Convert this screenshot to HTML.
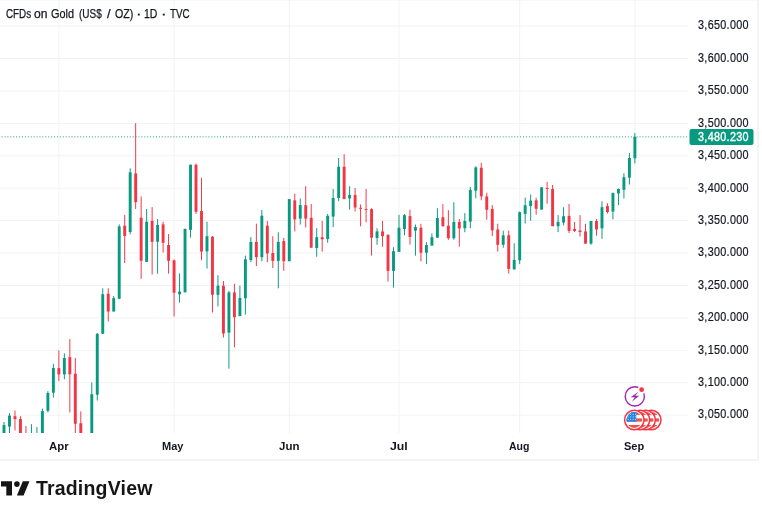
<!DOCTYPE html>
<html><head><meta charset="utf-8"><title>CFDs on Gold</title>
<style>
html,body{margin:0;padding:0;background:#fff;}
body{width:762px;height:505px;position:relative;overflow:hidden;font-family:"Liberation Sans",sans-serif;color:#131722;}
svg{position:absolute;left:0;top:0;}
.t{position:absolute;white-space:nowrap;line-height:1;}
.ttl span{position:absolute;top:0;left:0;transform-origin:0 0;font-size:12px;-webkit-text-stroke:0.25px #131722;}
.pl{font-size:12px;letter-spacing:0.35px;left:697.7px;transform:scaleX(0.9);transform-origin:0 0;-webkit-text-stroke:0.2px #131722;}
.tl{font-size:11.3px;font-weight:bold;transform-origin:0 0;top:440.9px;}
</style></head><body>
<svg width="762" height="505" viewBox="0 0 762 505">

<rect x="0" y="25.61" width="688.6" height="0.971" fill="#f2f2f3"/>
<rect x="0" y="58.03" width="688.6" height="0.971" fill="#f2f2f3"/>
<rect x="0" y="90.45" width="688.6" height="0.971" fill="#f2f2f3"/>
<rect x="0" y="122.87" width="688.6" height="0.971" fill="#f2f2f3"/>
<rect x="0" y="155.29" width="688.6" height="0.971" fill="#f2f2f3"/>
<rect x="0" y="187.71" width="688.6" height="0.971" fill="#f2f2f3"/>
<rect x="0" y="220.13" width="688.6" height="0.971" fill="#f2f2f3"/>
<rect x="0" y="252.55" width="688.6" height="0.971" fill="#f2f2f3"/>
<rect x="0" y="284.97" width="688.6" height="0.971" fill="#f2f2f3"/>
<rect x="0" y="317.39" width="688.6" height="0.971" fill="#f2f2f3"/>
<rect x="0" y="349.81" width="688.6" height="0.971" fill="#f2f2f3"/>
<rect x="0" y="382.23" width="688.6" height="0.971" fill="#f2f2f3"/>
<rect x="0" y="414.65" width="688.6" height="0.971" fill="#f2f2f3"/>
<rect x="58.37" y="0" width="0.971" height="433" fill="#f2f2f3"/>
<rect x="173.58" y="0" width="0.971" height="433" fill="#f2f2f3"/>
<rect x="288.79" y="0" width="0.971" height="433" fill="#f2f2f3"/>
<rect x="398.51" y="0" width="0.971" height="433" fill="#f2f2f3"/>
<rect x="519.20" y="0" width="0.971" height="433" fill="#f2f2f3"/>
<rect x="634.40" y="0" width="0.971" height="433" fill="#f2f2f3"/>
<rect x="757" y="0" width="2" height="461" fill="#f4f4f5"/>
<rect x="0" y="459" width="759" height="2" fill="#f4f4f5"/>
<rect x="0" y="0" width="759" height="0.6" fill="#f4f4f5"/>
<g fill="#089981">
<rect x="1.60" y="136.4" width="0.971" height="0.971"/>
<rect x="4.51" y="136.4" width="0.971" height="0.971"/>
<rect x="7.43" y="136.4" width="0.971" height="0.971"/>
<rect x="10.34" y="136.4" width="0.971" height="0.971"/>
<rect x="13.25" y="136.4" width="0.971" height="0.971"/>
<rect x="16.16" y="136.4" width="0.971" height="0.971"/>
<rect x="19.08" y="136.4" width="0.971" height="0.971"/>
<rect x="21.99" y="136.4" width="0.971" height="0.971"/>
<rect x="24.90" y="136.4" width="0.971" height="0.971"/>
<rect x="27.82" y="136.4" width="0.971" height="0.971"/>
<rect x="30.73" y="136.4" width="0.971" height="0.971"/>
<rect x="33.64" y="136.4" width="0.971" height="0.971"/>
<rect x="36.56" y="136.4" width="0.971" height="0.971"/>
<rect x="39.47" y="136.4" width="0.971" height="0.971"/>
<rect x="42.38" y="136.4" width="0.971" height="0.971"/>
<rect x="45.29" y="136.4" width="0.971" height="0.971"/>
<rect x="48.21" y="136.4" width="0.971" height="0.971"/>
<rect x="51.12" y="136.4" width="0.971" height="0.971"/>
<rect x="54.03" y="136.4" width="0.971" height="0.971"/>
<rect x="56.95" y="136.4" width="0.971" height="0.971"/>
<rect x="59.86" y="136.4" width="0.971" height="0.971"/>
<rect x="62.77" y="136.4" width="0.971" height="0.971"/>
<rect x="65.69" y="136.4" width="0.971" height="0.971"/>
<rect x="68.60" y="136.4" width="0.971" height="0.971"/>
<rect x="71.51" y="136.4" width="0.971" height="0.971"/>
<rect x="74.42" y="136.4" width="0.971" height="0.971"/>
<rect x="77.34" y="136.4" width="0.971" height="0.971"/>
<rect x="80.25" y="136.4" width="0.971" height="0.971"/>
<rect x="83.16" y="136.4" width="0.971" height="0.971"/>
<rect x="86.08" y="136.4" width="0.971" height="0.971"/>
<rect x="88.99" y="136.4" width="0.971" height="0.971"/>
<rect x="91.90" y="136.4" width="0.971" height="0.971"/>
<rect x="94.82" y="136.4" width="0.971" height="0.971"/>
<rect x="97.73" y="136.4" width="0.971" height="0.971"/>
<rect x="100.64" y="136.4" width="0.971" height="0.971"/>
<rect x="103.55" y="136.4" width="0.971" height="0.971"/>
<rect x="106.47" y="136.4" width="0.971" height="0.971"/>
<rect x="109.38" y="136.4" width="0.971" height="0.971"/>
<rect x="112.29" y="136.4" width="0.971" height="0.971"/>
<rect x="115.21" y="136.4" width="0.971" height="0.971"/>
<rect x="118.12" y="136.4" width="0.971" height="0.971"/>
<rect x="121.03" y="136.4" width="0.971" height="0.971"/>
<rect x="123.95" y="136.4" width="0.971" height="0.971"/>
<rect x="126.86" y="136.4" width="0.971" height="0.971"/>
<rect x="129.77" y="136.4" width="0.971" height="0.971"/>
<rect x="132.68" y="136.4" width="0.971" height="0.971"/>
<rect x="135.60" y="136.4" width="0.971" height="0.971"/>
<rect x="138.51" y="136.4" width="0.971" height="0.971"/>
<rect x="141.42" y="136.4" width="0.971" height="0.971"/>
<rect x="144.34" y="136.4" width="0.971" height="0.971"/>
<rect x="147.25" y="136.4" width="0.971" height="0.971"/>
<rect x="150.16" y="136.4" width="0.971" height="0.971"/>
<rect x="153.08" y="136.4" width="0.971" height="0.971"/>
<rect x="155.99" y="136.4" width="0.971" height="0.971"/>
<rect x="158.90" y="136.4" width="0.971" height="0.971"/>
<rect x="161.82" y="136.4" width="0.971" height="0.971"/>
<rect x="164.73" y="136.4" width="0.971" height="0.971"/>
<rect x="167.64" y="136.4" width="0.971" height="0.971"/>
<rect x="170.55" y="136.4" width="0.971" height="0.971"/>
<rect x="173.47" y="136.4" width="0.971" height="0.971"/>
<rect x="176.38" y="136.4" width="0.971" height="0.971"/>
<rect x="179.29" y="136.4" width="0.971" height="0.971"/>
<rect x="182.21" y="136.4" width="0.971" height="0.971"/>
<rect x="185.12" y="136.4" width="0.971" height="0.971"/>
<rect x="188.03" y="136.4" width="0.971" height="0.971"/>
<rect x="190.95" y="136.4" width="0.971" height="0.971"/>
<rect x="193.86" y="136.4" width="0.971" height="0.971"/>
<rect x="196.77" y="136.4" width="0.971" height="0.971"/>
<rect x="199.68" y="136.4" width="0.971" height="0.971"/>
<rect x="202.60" y="136.4" width="0.971" height="0.971"/>
<rect x="205.51" y="136.4" width="0.971" height="0.971"/>
<rect x="208.42" y="136.4" width="0.971" height="0.971"/>
<rect x="211.34" y="136.4" width="0.971" height="0.971"/>
<rect x="214.25" y="136.4" width="0.971" height="0.971"/>
<rect x="217.16" y="136.4" width="0.971" height="0.971"/>
<rect x="220.08" y="136.4" width="0.971" height="0.971"/>
<rect x="222.99" y="136.4" width="0.971" height="0.971"/>
<rect x="225.90" y="136.4" width="0.971" height="0.971"/>
<rect x="228.81" y="136.4" width="0.971" height="0.971"/>
<rect x="231.73" y="136.4" width="0.971" height="0.971"/>
<rect x="234.64" y="136.4" width="0.971" height="0.971"/>
<rect x="237.55" y="136.4" width="0.971" height="0.971"/>
<rect x="240.47" y="136.4" width="0.971" height="0.971"/>
<rect x="243.38" y="136.4" width="0.971" height="0.971"/>
<rect x="246.29" y="136.4" width="0.971" height="0.971"/>
<rect x="249.21" y="136.4" width="0.971" height="0.971"/>
<rect x="252.12" y="136.4" width="0.971" height="0.971"/>
<rect x="255.03" y="136.4" width="0.971" height="0.971"/>
<rect x="257.94" y="136.4" width="0.971" height="0.971"/>
<rect x="260.86" y="136.4" width="0.971" height="0.971"/>
<rect x="263.77" y="136.4" width="0.971" height="0.971"/>
<rect x="266.68" y="136.4" width="0.971" height="0.971"/>
<rect x="269.60" y="136.4" width="0.971" height="0.971"/>
<rect x="272.51" y="136.4" width="0.971" height="0.971"/>
<rect x="275.42" y="136.4" width="0.971" height="0.971"/>
<rect x="278.34" y="136.4" width="0.971" height="0.971"/>
<rect x="281.25" y="136.4" width="0.971" height="0.971"/>
<rect x="284.16" y="136.4" width="0.971" height="0.971"/>
<rect x="287.07" y="136.4" width="0.971" height="0.971"/>
<rect x="289.99" y="136.4" width="0.971" height="0.971"/>
<rect x="292.90" y="136.4" width="0.971" height="0.971"/>
<rect x="295.81" y="136.4" width="0.971" height="0.971"/>
<rect x="298.73" y="136.4" width="0.971" height="0.971"/>
<rect x="301.64" y="136.4" width="0.971" height="0.971"/>
<rect x="304.55" y="136.4" width="0.971" height="0.971"/>
<rect x="307.47" y="136.4" width="0.971" height="0.971"/>
<rect x="310.38" y="136.4" width="0.971" height="0.971"/>
<rect x="313.29" y="136.4" width="0.971" height="0.971"/>
<rect x="316.20" y="136.4" width="0.971" height="0.971"/>
<rect x="319.12" y="136.4" width="0.971" height="0.971"/>
<rect x="322.03" y="136.4" width="0.971" height="0.971"/>
<rect x="324.94" y="136.4" width="0.971" height="0.971"/>
<rect x="327.86" y="136.4" width="0.971" height="0.971"/>
<rect x="330.77" y="136.4" width="0.971" height="0.971"/>
<rect x="333.68" y="136.4" width="0.971" height="0.971"/>
<rect x="336.60" y="136.4" width="0.971" height="0.971"/>
<rect x="339.51" y="136.4" width="0.971" height="0.971"/>
<rect x="342.42" y="136.4" width="0.971" height="0.971"/>
<rect x="345.33" y="136.4" width="0.971" height="0.971"/>
<rect x="348.25" y="136.4" width="0.971" height="0.971"/>
<rect x="351.16" y="136.4" width="0.971" height="0.971"/>
<rect x="354.07" y="136.4" width="0.971" height="0.971"/>
<rect x="356.99" y="136.4" width="0.971" height="0.971"/>
<rect x="359.90" y="136.4" width="0.971" height="0.971"/>
<rect x="362.81" y="136.4" width="0.971" height="0.971"/>
<rect x="365.73" y="136.4" width="0.971" height="0.971"/>
<rect x="368.64" y="136.4" width="0.971" height="0.971"/>
<rect x="371.55" y="136.4" width="0.971" height="0.971"/>
<rect x="374.46" y="136.4" width="0.971" height="0.971"/>
<rect x="377.38" y="136.4" width="0.971" height="0.971"/>
<rect x="380.29" y="136.4" width="0.971" height="0.971"/>
<rect x="383.20" y="136.4" width="0.971" height="0.971"/>
<rect x="386.12" y="136.4" width="0.971" height="0.971"/>
<rect x="389.03" y="136.4" width="0.971" height="0.971"/>
<rect x="391.94" y="136.4" width="0.971" height="0.971"/>
<rect x="394.86" y="136.4" width="0.971" height="0.971"/>
<rect x="397.77" y="136.4" width="0.971" height="0.971"/>
<rect x="400.68" y="136.4" width="0.971" height="0.971"/>
<rect x="403.59" y="136.4" width="0.971" height="0.971"/>
<rect x="406.51" y="136.4" width="0.971" height="0.971"/>
<rect x="409.42" y="136.4" width="0.971" height="0.971"/>
<rect x="412.33" y="136.4" width="0.971" height="0.971"/>
<rect x="415.25" y="136.4" width="0.971" height="0.971"/>
<rect x="418.16" y="136.4" width="0.971" height="0.971"/>
<rect x="421.07" y="136.4" width="0.971" height="0.971"/>
<rect x="423.99" y="136.4" width="0.971" height="0.971"/>
<rect x="426.90" y="136.4" width="0.971" height="0.971"/>
<rect x="429.81" y="136.4" width="0.971" height="0.971"/>
<rect x="432.72" y="136.4" width="0.971" height="0.971"/>
<rect x="435.64" y="136.4" width="0.971" height="0.971"/>
<rect x="438.55" y="136.4" width="0.971" height="0.971"/>
<rect x="441.46" y="136.4" width="0.971" height="0.971"/>
<rect x="444.38" y="136.4" width="0.971" height="0.971"/>
<rect x="447.29" y="136.4" width="0.971" height="0.971"/>
<rect x="450.20" y="136.4" width="0.971" height="0.971"/>
<rect x="453.12" y="136.4" width="0.971" height="0.971"/>
<rect x="456.03" y="136.4" width="0.971" height="0.971"/>
<rect x="458.94" y="136.4" width="0.971" height="0.971"/>
<rect x="461.85" y="136.4" width="0.971" height="0.971"/>
<rect x="464.77" y="136.4" width="0.971" height="0.971"/>
<rect x="467.68" y="136.4" width="0.971" height="0.971"/>
<rect x="470.59" y="136.4" width="0.971" height="0.971"/>
<rect x="473.51" y="136.4" width="0.971" height="0.971"/>
<rect x="476.42" y="136.4" width="0.971" height="0.971"/>
<rect x="479.33" y="136.4" width="0.971" height="0.971"/>
<rect x="482.25" y="136.4" width="0.971" height="0.971"/>
<rect x="485.16" y="136.4" width="0.971" height="0.971"/>
<rect x="488.07" y="136.4" width="0.971" height="0.971"/>
<rect x="490.98" y="136.4" width="0.971" height="0.971"/>
<rect x="493.90" y="136.4" width="0.971" height="0.971"/>
<rect x="496.81" y="136.4" width="0.971" height="0.971"/>
<rect x="499.72" y="136.4" width="0.971" height="0.971"/>
<rect x="502.64" y="136.4" width="0.971" height="0.971"/>
<rect x="505.55" y="136.4" width="0.971" height="0.971"/>
<rect x="508.46" y="136.4" width="0.971" height="0.971"/>
<rect x="511.38" y="136.4" width="0.971" height="0.971"/>
<rect x="514.29" y="136.4" width="0.971" height="0.971"/>
<rect x="517.20" y="136.4" width="0.971" height="0.971"/>
<rect x="520.11" y="136.4" width="0.971" height="0.971"/>
<rect x="523.03" y="136.4" width="0.971" height="0.971"/>
<rect x="525.94" y="136.4" width="0.971" height="0.971"/>
<rect x="528.85" y="136.4" width="0.971" height="0.971"/>
<rect x="531.77" y="136.4" width="0.971" height="0.971"/>
<rect x="534.68" y="136.4" width="0.971" height="0.971"/>
<rect x="537.59" y="136.4" width="0.971" height="0.971"/>
<rect x="540.51" y="136.4" width="0.971" height="0.971"/>
<rect x="543.42" y="136.4" width="0.971" height="0.971"/>
<rect x="546.33" y="136.4" width="0.971" height="0.971"/>
<rect x="549.24" y="136.4" width="0.971" height="0.971"/>
<rect x="552.16" y="136.4" width="0.971" height="0.971"/>
<rect x="555.07" y="136.4" width="0.971" height="0.971"/>
<rect x="557.98" y="136.4" width="0.971" height="0.971"/>
<rect x="560.90" y="136.4" width="0.971" height="0.971"/>
<rect x="563.81" y="136.4" width="0.971" height="0.971"/>
<rect x="566.72" y="136.4" width="0.971" height="0.971"/>
<rect x="569.64" y="136.4" width="0.971" height="0.971"/>
<rect x="572.55" y="136.4" width="0.971" height="0.971"/>
<rect x="575.46" y="136.4" width="0.971" height="0.971"/>
<rect x="578.37" y="136.4" width="0.971" height="0.971"/>
<rect x="581.29" y="136.4" width="0.971" height="0.971"/>
<rect x="584.20" y="136.4" width="0.971" height="0.971"/>
<rect x="587.11" y="136.4" width="0.971" height="0.971"/>
<rect x="590.03" y="136.4" width="0.971" height="0.971"/>
<rect x="592.94" y="136.4" width="0.971" height="0.971"/>
<rect x="595.85" y="136.4" width="0.971" height="0.971"/>
<rect x="598.77" y="136.4" width="0.971" height="0.971"/>
<rect x="601.68" y="136.4" width="0.971" height="0.971"/>
<rect x="604.59" y="136.4" width="0.971" height="0.971"/>
<rect x="607.50" y="136.4" width="0.971" height="0.971"/>
<rect x="610.42" y="136.4" width="0.971" height="0.971"/>
<rect x="613.33" y="136.4" width="0.971" height="0.971"/>
<rect x="616.24" y="136.4" width="0.971" height="0.971"/>
<rect x="619.16" y="136.4" width="0.971" height="0.971"/>
<rect x="622.07" y="136.4" width="0.971" height="0.971"/>
<rect x="624.98" y="136.4" width="0.971" height="0.971"/>
<rect x="627.90" y="136.4" width="0.971" height="0.971"/>
<rect x="630.81" y="136.4" width="0.971" height="0.971"/>
<rect x="633.72" y="136.4" width="0.971" height="0.971"/>
<rect x="636.63" y="136.4" width="0.971" height="0.971"/>
<rect x="639.55" y="136.4" width="0.971" height="0.971"/>
<rect x="642.46" y="136.4" width="0.971" height="0.971"/>
<rect x="645.37" y="136.4" width="0.971" height="0.971"/>
<rect x="648.29" y="136.4" width="0.971" height="0.971"/>
<rect x="651.20" y="136.4" width="0.971" height="0.971"/>
<rect x="654.11" y="136.4" width="0.971" height="0.971"/>
<rect x="657.03" y="136.4" width="0.971" height="0.971"/>
<rect x="659.94" y="136.4" width="0.971" height="0.971"/>
<rect x="662.85" y="136.4" width="0.971" height="0.971"/>
<rect x="665.76" y="136.4" width="0.971" height="0.971"/>
<rect x="668.68" y="136.4" width="0.971" height="0.971"/>
<rect x="671.59" y="136.4" width="0.971" height="0.971"/>
<rect x="674.50" y="136.4" width="0.971" height="0.971"/>
<rect x="677.42" y="136.4" width="0.971" height="0.971"/>
<rect x="680.33" y="136.4" width="0.971" height="0.971"/>
<rect x="683.24" y="136.4" width="0.971" height="0.971"/>
<rect x="686.16" y="136.4" width="0.971" height="0.971"/>
</g>
<clipPath id="cp"><rect x="0" y="0" width="700" height="433"/></clipPath><g clip-path="url(#cp)">
<rect x="3.51" y="421.9" width="0.971" height="18.1" fill="#089981"/>
<rect x="2.54" y="425.1" width="2.91" height="14.9" fill="#089981"/>
<rect x="9.00" y="413.3" width="0.971" height="26.7" fill="#089981"/>
<rect x="8.03" y="415.6" width="2.91" height="11.0" fill="#089981"/>
<rect x="14.49" y="410.5" width="0.971" height="20.0" fill="#F23645"/>
<rect x="13.52" y="416.2" width="2.91" height="2.9" fill="#F23645"/>
<rect x="19.97" y="416.2" width="0.971" height="23.8" fill="#F23645"/>
<rect x="19.00" y="419.1" width="2.91" height="20.9" fill="#F23645"/>
<rect x="25.46" y="426.0" width="0.971" height="14.0" fill="#F23645"/>
<rect x="24.49" y="436.0" width="2.91" height="4.0" fill="#F23645"/>
<rect x="30.94" y="424.2" width="0.971" height="15.8" fill="#089981"/>
<rect x="29.97" y="436.0" width="2.91" height="4.0" fill="#089981"/>
<rect x="36.43" y="427.0" width="0.971" height="13.0" fill="#089981"/>
<rect x="35.46" y="436.0" width="2.91" height="4.0" fill="#089981"/>
<rect x="41.92" y="408.6" width="0.971" height="31.4" fill="#089981"/>
<rect x="40.95" y="411.1" width="2.91" height="28.9" fill="#089981"/>
<rect x="47.40" y="391.1" width="0.971" height="21.3" fill="#089981"/>
<rect x="46.43" y="393.0" width="2.91" height="17.8" fill="#089981"/>
<rect x="52.89" y="363.8" width="0.971" height="33.8" fill="#089981"/>
<rect x="51.92" y="368.0" width="2.91" height="24.7" fill="#089981"/>
<rect x="58.37" y="350.4" width="0.971" height="30.7" fill="#F23645"/>
<rect x="57.40" y="368.1" width="2.91" height="6.3" fill="#F23645"/>
<rect x="63.86" y="353.3" width="0.971" height="26.0" fill="#089981"/>
<rect x="62.89" y="358.0" width="2.91" height="16.4" fill="#089981"/>
<rect x="69.35" y="339.0" width="0.971" height="73.4" fill="#F23645"/>
<rect x="68.38" y="357.1" width="2.91" height="17.2" fill="#F23645"/>
<rect x="74.83" y="358.0" width="0.971" height="82.0" fill="#F23645"/>
<rect x="73.86" y="373.7" width="2.91" height="50.1" fill="#F23645"/>
<rect x="80.32" y="411.4" width="0.971" height="28.6" fill="#F23645"/>
<rect x="79.35" y="423.2" width="2.91" height="16.8" fill="#F23645"/>
<rect x="91.29" y="382.4" width="0.971" height="57.6" fill="#089981"/>
<rect x="90.32" y="394.2" width="2.91" height="45.8" fill="#089981"/>
<rect x="96.78" y="333.0" width="0.971" height="67.5" fill="#089981"/>
<rect x="95.81" y="333.8" width="2.91" height="60.9" fill="#089981"/>
<rect x="102.26" y="288.3" width="0.971" height="45.5" fill="#089981"/>
<rect x="101.29" y="294.2" width="2.91" height="39.6" fill="#089981"/>
<rect x="107.75" y="288.3" width="0.971" height="33.2" fill="#F23645"/>
<rect x="106.78" y="293.7" width="2.91" height="17.8" fill="#F23645"/>
<rect x="113.23" y="296.0" width="0.971" height="15.5" fill="#089981"/>
<rect x="112.26" y="298.1" width="2.91" height="13.4" fill="#089981"/>
<rect x="118.72" y="224.4" width="0.971" height="74.4" fill="#089981"/>
<rect x="117.75" y="226.4" width="2.91" height="72.4" fill="#089981"/>
<rect x="124.21" y="214.9" width="0.971" height="48.1" fill="#F23645"/>
<rect x="123.24" y="225.7" width="2.91" height="10.2" fill="#F23645"/>
<rect x="129.69" y="168.3" width="0.971" height="66.1" fill="#089981"/>
<rect x="128.72" y="172.3" width="2.91" height="59.7" fill="#089981"/>
<rect x="135.18" y="123.2" width="0.971" height="85.8" fill="#F23645"/>
<rect x="134.21" y="173.4" width="2.91" height="28.8" fill="#F23645"/>
<rect x="140.66" y="196.4" width="0.971" height="82.4" fill="#F23645"/>
<rect x="139.69" y="217.7" width="2.91" height="43.1" fill="#F23645"/>
<rect x="146.15" y="209.0" width="0.971" height="52.9" fill="#089981"/>
<rect x="145.18" y="221.7" width="2.91" height="40.2" fill="#089981"/>
<rect x="151.64" y="207.1" width="0.971" height="67.4" fill="#F23645"/>
<rect x="150.67" y="220.9" width="2.91" height="20.9" fill="#F23645"/>
<rect x="157.12" y="219.0" width="0.971" height="54.7" fill="#089981"/>
<rect x="156.15" y="224.9" width="2.91" height="16.9" fill="#089981"/>
<rect x="162.61" y="221.7" width="0.971" height="30.8" fill="#F23645"/>
<rect x="161.64" y="224.4" width="2.91" height="18.4" fill="#F23645"/>
<rect x="168.09" y="234.0" width="0.971" height="39.7" fill="#F23645"/>
<rect x="167.12" y="245.0" width="2.91" height="15.8" fill="#F23645"/>
<rect x="173.58" y="259.5" width="0.971" height="57.0" fill="#F23645"/>
<rect x="172.61" y="260.3" width="2.91" height="32.4" fill="#F23645"/>
<rect x="179.07" y="273.4" width="0.971" height="29.2" fill="#089981"/>
<rect x="178.10" y="291.5" width="2.91" height="2.8" fill="#089981"/>
<rect x="184.55" y="228.5" width="0.971" height="63.8" fill="#089981"/>
<rect x="183.58" y="229.0" width="2.91" height="63.3" fill="#089981"/>
<rect x="190.04" y="164.7" width="0.971" height="73.0" fill="#089981"/>
<rect x="189.07" y="164.7" width="2.91" height="65.2" fill="#089981"/>
<rect x="195.52" y="163.5" width="0.971" height="50.3" fill="#F23645"/>
<rect x="194.55" y="164.8" width="2.91" height="47.0" fill="#F23645"/>
<rect x="201.01" y="177.9" width="0.971" height="82.3" fill="#F23645"/>
<rect x="200.04" y="211.0" width="2.91" height="40.6" fill="#F23645"/>
<rect x="206.50" y="221.7" width="0.971" height="46.8" fill="#089981"/>
<rect x="205.53" y="236.2" width="2.91" height="15.2" fill="#089981"/>
<rect x="211.98" y="236.0" width="0.971" height="76.5" fill="#F23645"/>
<rect x="211.01" y="236.7" width="2.91" height="58.1" fill="#F23645"/>
<rect x="217.47" y="275.1" width="0.971" height="31.3" fill="#089981"/>
<rect x="216.50" y="285.7" width="2.91" height="9.1" fill="#089981"/>
<rect x="222.95" y="281.0" width="0.971" height="56.5" fill="#F23645"/>
<rect x="221.98" y="285.7" width="2.91" height="47.8" fill="#F23645"/>
<rect x="228.44" y="290.9" width="0.971" height="77.8" fill="#089981"/>
<rect x="227.47" y="292.4" width="2.91" height="40.3" fill="#089981"/>
<rect x="233.93" y="283.8" width="0.971" height="63.5" fill="#F23645"/>
<rect x="232.96" y="292.4" width="2.91" height="24.8" fill="#F23645"/>
<rect x="239.41" y="285.7" width="0.971" height="30.4" fill="#089981"/>
<rect x="238.44" y="298.0" width="2.91" height="18.1" fill="#089981"/>
<rect x="244.90" y="255.6" width="0.971" height="58.9" fill="#089981"/>
<rect x="243.93" y="259.3" width="2.91" height="39.0" fill="#089981"/>
<rect x="250.38" y="237.1" width="0.971" height="25.0" fill="#089981"/>
<rect x="249.41" y="241.9" width="2.91" height="18.2" fill="#089981"/>
<rect x="255.87" y="223.6" width="0.971" height="42.5" fill="#F23645"/>
<rect x="254.90" y="241.9" width="2.91" height="15.3" fill="#F23645"/>
<rect x="261.36" y="209.9" width="0.971" height="51.3" fill="#089981"/>
<rect x="260.39" y="215.7" width="2.91" height="41.5" fill="#089981"/>
<rect x="266.84" y="220.9" width="0.971" height="41.2" fill="#F23645"/>
<rect x="265.87" y="225.7" width="2.91" height="27.7" fill="#F23645"/>
<rect x="272.33" y="236.2" width="0.971" height="31.8" fill="#F23645"/>
<rect x="271.36" y="253.0" width="2.91" height="7.9" fill="#F23645"/>
<rect x="277.81" y="232.2" width="0.971" height="56.1" fill="#089981"/>
<rect x="276.84" y="241.9" width="2.91" height="19.0" fill="#089981"/>
<rect x="283.30" y="237.9" width="0.971" height="32.9" fill="#F23645"/>
<rect x="282.33" y="241.1" width="2.91" height="20.1" fill="#F23645"/>
<rect x="288.79" y="199.1" width="0.971" height="62.1" fill="#089981"/>
<rect x="287.82" y="199.1" width="2.91" height="62.1" fill="#089981"/>
<rect x="294.27" y="193.6" width="0.971" height="37.8" fill="#F23645"/>
<rect x="293.30" y="200.4" width="2.91" height="19.0" fill="#F23645"/>
<rect x="299.76" y="198.5" width="0.971" height="26.1" fill="#089981"/>
<rect x="298.79" y="205.1" width="2.91" height="13.5" fill="#089981"/>
<rect x="305.24" y="186.2" width="0.971" height="41.2" fill="#F23645"/>
<rect x="304.27" y="205.2" width="2.91" height="13.4" fill="#F23645"/>
<rect x="310.73" y="204.0" width="0.971" height="43.7" fill="#F23645"/>
<rect x="309.76" y="217.8" width="2.91" height="29.9" fill="#F23645"/>
<rect x="316.22" y="228.2" width="0.971" height="28.5" fill="#089981"/>
<rect x="315.25" y="237.2" width="2.91" height="10.8" fill="#089981"/>
<rect x="321.70" y="220.9" width="0.971" height="30.7" fill="#F23645"/>
<rect x="320.73" y="237.2" width="2.91" height="2.1" fill="#F23645"/>
<rect x="327.19" y="214.0" width="0.971" height="28.8" fill="#089981"/>
<rect x="326.22" y="215.8" width="2.91" height="23.2" fill="#089981"/>
<rect x="332.67" y="189.0" width="0.971" height="38.1" fill="#089981"/>
<rect x="331.70" y="198.0" width="2.91" height="18.6" fill="#089981"/>
<rect x="338.16" y="158.0" width="0.971" height="43.2" fill="#089981"/>
<rect x="337.19" y="166.8" width="2.91" height="31.2" fill="#089981"/>
<rect x="343.65" y="154.2" width="0.971" height="44.9" fill="#F23645"/>
<rect x="342.68" y="166.8" width="2.91" height="32.3" fill="#F23645"/>
<rect x="349.13" y="186.2" width="0.971" height="23.4" fill="#089981"/>
<rect x="348.16" y="194.9" width="2.91" height="3.6" fill="#089981"/>
<rect x="354.62" y="188.1" width="0.971" height="23.4" fill="#F23645"/>
<rect x="353.65" y="194.9" width="2.91" height="12.6" fill="#F23645"/>
<rect x="360.10" y="204.4" width="0.971" height="21.9" fill="#F23645"/>
<rect x="359.13" y="207.8" width="2.91" height="1.0" fill="#F23645"/>
<rect x="365.59" y="189.0" width="0.971" height="33.3" fill="#F23645"/>
<rect x="364.62" y="208.9" width="2.91" height="1.0" fill="#F23645"/>
<rect x="371.08" y="208.3" width="0.971" height="47.3" fill="#F23645"/>
<rect x="370.11" y="209.1" width="2.91" height="28.6" fill="#F23645"/>
<rect x="376.56" y="228.2" width="0.971" height="16.6" fill="#089981"/>
<rect x="375.59" y="231.4" width="2.91" height="6.6" fill="#089981"/>
<rect x="382.05" y="220.9" width="0.971" height="25.8" fill="#F23645"/>
<rect x="381.08" y="231.4" width="2.91" height="4.7" fill="#F23645"/>
<rect x="387.53" y="234.1" width="0.971" height="47.5" fill="#F23645"/>
<rect x="386.56" y="235.0" width="2.91" height="35.9" fill="#F23645"/>
<rect x="393.02" y="247.2" width="0.971" height="40.4" fill="#089981"/>
<rect x="392.05" y="251.2" width="2.91" height="19.7" fill="#089981"/>
<rect x="398.51" y="214.8" width="0.971" height="37.1" fill="#089981"/>
<rect x="397.54" y="227.7" width="2.91" height="24.2" fill="#089981"/>
<rect x="403.99" y="214.0" width="0.971" height="21.3" fill="#089981"/>
<rect x="403.02" y="215.2" width="2.91" height="13.8" fill="#089981"/>
<rect x="409.48" y="209.8" width="0.971" height="34.8" fill="#F23645"/>
<rect x="408.51" y="216.1" width="2.91" height="20.8" fill="#F23645"/>
<rect x="414.96" y="224.5" width="0.971" height="31.1" fill="#089981"/>
<rect x="413.99" y="227.1" width="2.91" height="3.5" fill="#089981"/>
<rect x="420.45" y="223.8" width="0.971" height="37.6" fill="#F23645"/>
<rect x="419.48" y="227.7" width="2.91" height="25.0" fill="#F23645"/>
<rect x="425.94" y="242.1" width="0.971" height="22.0" fill="#089981"/>
<rect x="424.97" y="245.1" width="2.91" height="7.6" fill="#089981"/>
<rect x="431.42" y="233.4" width="0.971" height="12.2" fill="#089981"/>
<rect x="430.45" y="237.2" width="2.91" height="8.4" fill="#089981"/>
<rect x="436.91" y="208.3" width="0.971" height="29.4" fill="#089981"/>
<rect x="435.94" y="218.0" width="2.91" height="19.7" fill="#089981"/>
<rect x="442.39" y="204.1" width="0.971" height="22.2" fill="#F23645"/>
<rect x="441.42" y="217.2" width="2.91" height="9.1" fill="#F23645"/>
<rect x="447.88" y="210.2" width="0.971" height="29.6" fill="#F23645"/>
<rect x="446.91" y="225.7" width="2.91" height="12.5" fill="#F23645"/>
<rect x="453.37" y="202.2" width="0.971" height="37.6" fill="#089981"/>
<rect x="452.40" y="222.0" width="2.91" height="16.2" fill="#089981"/>
<rect x="458.85" y="219.0" width="0.971" height="27.7" fill="#F23645"/>
<rect x="457.88" y="222.0" width="2.91" height="6.4" fill="#F23645"/>
<rect x="464.34" y="213.1" width="0.971" height="19.1" fill="#089981"/>
<rect x="463.37" y="221.0" width="2.91" height="7.3" fill="#089981"/>
<rect x="469.82" y="186.9" width="0.971" height="41.4" fill="#089981"/>
<rect x="468.85" y="189.9" width="2.91" height="31.7" fill="#089981"/>
<rect x="475.31" y="166.3" width="0.971" height="32.0" fill="#089981"/>
<rect x="474.34" y="167.4" width="2.91" height="23.3" fill="#089981"/>
<rect x="480.80" y="162.7" width="0.971" height="37.6" fill="#F23645"/>
<rect x="479.83" y="167.7" width="2.91" height="28.7" fill="#F23645"/>
<rect x="486.28" y="192.7" width="0.971" height="27.0" fill="#F23645"/>
<rect x="485.31" y="196.4" width="2.91" height="13.4" fill="#F23645"/>
<rect x="491.77" y="205.1" width="0.971" height="31.0" fill="#F23645"/>
<rect x="490.80" y="208.9" width="2.91" height="21.4" fill="#F23645"/>
<rect x="497.25" y="223.7" width="0.971" height="27.9" fill="#F23645"/>
<rect x="496.28" y="229.5" width="2.91" height="15.3" fill="#F23645"/>
<rect x="502.74" y="230.6" width="0.971" height="17.1" fill="#089981"/>
<rect x="501.77" y="235.3" width="2.91" height="9.5" fill="#089981"/>
<rect x="508.23" y="230.6" width="0.971" height="43.0" fill="#F23645"/>
<rect x="507.26" y="235.3" width="2.91" height="33.6" fill="#F23645"/>
<rect x="513.71" y="243.2" width="0.971" height="26.2" fill="#089981"/>
<rect x="512.74" y="259.9" width="2.91" height="9.5" fill="#089981"/>
<rect x="519.20" y="211.5" width="0.971" height="52.6" fill="#089981"/>
<rect x="518.23" y="212.2" width="2.91" height="48.1" fill="#089981"/>
<rect x="524.68" y="197.6" width="0.971" height="25.9" fill="#089981"/>
<rect x="523.71" y="205.2" width="2.91" height="8.7" fill="#089981"/>
<rect x="530.17" y="194.5" width="0.971" height="26.2" fill="#089981"/>
<rect x="529.20" y="200.6" width="2.91" height="5.5" fill="#089981"/>
<rect x="535.66" y="197.7" width="0.971" height="16.9" fill="#F23645"/>
<rect x="534.69" y="200.4" width="2.91" height="8.4" fill="#F23645"/>
<rect x="541.14" y="187.0" width="0.971" height="22.6" fill="#089981"/>
<rect x="540.17" y="187.4" width="2.91" height="22.2" fill="#089981"/>
<rect x="546.63" y="181.9" width="0.971" height="21.8" fill="#F23645"/>
<rect x="545.66" y="188.0" width="2.91" height="1.0" fill="#F23645"/>
<rect x="552.11" y="185.0" width="0.971" height="41.2" fill="#F23645"/>
<rect x="551.14" y="189.0" width="2.91" height="37.2" fill="#F23645"/>
<rect x="557.60" y="215.1" width="0.971" height="17.0" fill="#089981"/>
<rect x="556.63" y="221.9" width="2.91" height="4.3" fill="#089981"/>
<rect x="563.09" y="207.2" width="0.971" height="18.2" fill="#089981"/>
<rect x="562.12" y="216.2" width="2.91" height="6.4" fill="#089981"/>
<rect x="568.57" y="204.0" width="0.971" height="29.0" fill="#F23645"/>
<rect x="567.60" y="215.9" width="2.91" height="15.0" fill="#F23645"/>
<rect x="574.06" y="221.9" width="0.971" height="10.1" fill="#F23645"/>
<rect x="573.09" y="228.9" width="2.91" height="2.0" fill="#F23645"/>
<rect x="579.54" y="215.1" width="0.971" height="21.4" fill="#F23645"/>
<rect x="578.57" y="230.5" width="2.91" height="1.5" fill="#F23645"/>
<rect x="585.03" y="223.8" width="0.971" height="19.8" fill="#F23645"/>
<rect x="584.06" y="231.4" width="2.91" height="12.2" fill="#F23645"/>
<rect x="590.52" y="221.0" width="0.971" height="23.7" fill="#089981"/>
<rect x="589.55" y="221.0" width="2.91" height="22.6" fill="#089981"/>
<rect x="596.00" y="219.1" width="0.971" height="16.6" fill="#F23645"/>
<rect x="595.03" y="221.0" width="2.91" height="8.4" fill="#F23645"/>
<rect x="601.49" y="201.3" width="0.971" height="37.6" fill="#089981"/>
<rect x="600.52" y="207.2" width="2.91" height="21.1" fill="#089981"/>
<rect x="606.97" y="203.2" width="0.971" height="10.3" fill="#F23645"/>
<rect x="606.00" y="206.1" width="2.91" height="5.9" fill="#F23645"/>
<rect x="612.46" y="192.5" width="0.971" height="27.0" fill="#089981"/>
<rect x="611.49" y="193.0" width="2.91" height="18.6" fill="#089981"/>
<rect x="617.95" y="188.5" width="0.971" height="16.6" fill="#089981"/>
<rect x="616.98" y="189.0" width="2.91" height="4.4" fill="#089981"/>
<rect x="623.43" y="173.2" width="0.971" height="25.3" fill="#089981"/>
<rect x="622.46" y="177.2" width="2.91" height="12.6" fill="#089981"/>
<rect x="628.92" y="153.1" width="0.971" height="31.4" fill="#089981"/>
<rect x="627.95" y="158.0" width="2.91" height="19.7" fill="#089981"/>
<rect x="634.40" y="133.0" width="0.971" height="30.5" fill="#089981"/>
<rect x="633.43" y="136.9" width="2.91" height="21.4" fill="#089981"/>
</g>
<rect x="689.5" y="129" width="64" height="16" rx="2" fill="#089981" shape-rendering="auto"/>
</svg>
<svg width="762" height="505" viewBox="0 0 762 505">
<g id="flags">

<circle cx="651.31" cy="420" r="9.7" fill="#fff" stroke="#F23645" stroke-width="1.5"/>
<clipPath id="fc6513"><circle cx="651.31" cy="420" r="7.9"/></clipPath>
<g clip-path="url(#fc6513)">
<rect x="642.31" y="411" width="18" height="18" fill="#fff"/>
<rect x="642.31" y="411.75" width="18" height="3.3" fill="#EF5350"/>
<rect x="642.31" y="418.35" width="18" height="3.3" fill="#EF5350"/>
<rect x="642.31" y="424.95" width="18" height="3.3" fill="#EF5350"/>
</g>
<circle cx="645.64" cy="420" r="9.7" fill="#fff" stroke="#F23645" stroke-width="1.5"/>
<clipPath id="fc6456"><circle cx="645.64" cy="420" r="7.9"/></clipPath>
<g clip-path="url(#fc6456)">
<rect x="636.64" y="411" width="18" height="18" fill="#fff"/>
<rect x="636.64" y="411.75" width="18" height="3.3" fill="#EF5350"/>
<rect x="636.64" y="418.35" width="18" height="3.3" fill="#EF5350"/>
<rect x="636.64" y="424.95" width="18" height="3.3" fill="#EF5350"/>
</g>
<circle cx="639.9699999999999" cy="420" r="9.7" fill="#fff" stroke="#F23645" stroke-width="1.5"/>
<clipPath id="fc6399"><circle cx="639.9699999999999" cy="420" r="7.9"/></clipPath>
<g clip-path="url(#fc6399)">
<rect x="630.9699999999999" y="411" width="18" height="18" fill="#fff"/>
<rect x="630.9699999999999" y="411.75" width="18" height="3.3" fill="#EF5350"/>
<rect x="630.9699999999999" y="418.35" width="18" height="3.3" fill="#EF5350"/>
<rect x="630.9699999999999" y="424.95" width="18" height="3.3" fill="#EF5350"/>
</g>
<circle cx="634.3" cy="420" r="9.7" fill="#fff" stroke="#F23645" stroke-width="1.5"/>
<clipPath id="fc6343"><circle cx="634.3" cy="420" r="7.9"/></clipPath>
<g clip-path="url(#fc6343)">
<rect x="625.3" y="411" width="18" height="18" fill="#fff"/>
<rect x="625.3" y="411.75" width="18" height="3.3" fill="#EF5350"/>
<rect x="625.3" y="418.35" width="18" height="3.3" fill="#EF5350"/>
<rect x="625.3" y="424.95" width="18" height="3.3" fill="#EF5350"/>
<rect x="625.3" y="411" width="11" height="10.65" fill="#1E88E5"/>
<rect x="627.60" y="413.90" width="1" height="1" fill="#bbdefb"/>
<rect x="630.10" y="413.90" width="1" height="1" fill="#bbdefb"/>
<rect x="632.60" y="413.90" width="1" height="1" fill="#bbdefb"/>
<rect x="635.10" y="413.90" width="1" height="1" fill="#bbdefb"/>
<rect x="627.60" y="416.40" width="1" height="1" fill="#bbdefb"/>
<rect x="630.10" y="416.40" width="1" height="1" fill="#bbdefb"/>
<rect x="632.60" y="416.40" width="1" height="1" fill="#bbdefb"/>
<rect x="635.10" y="416.40" width="1" height="1" fill="#bbdefb"/>
<rect x="627.60" y="418.90" width="1" height="1" fill="#bbdefb"/>
<rect x="630.10" y="418.90" width="1" height="1" fill="#bbdefb"/>
<rect x="632.60" y="418.90" width="1" height="1" fill="#bbdefb"/>
<rect x="635.10" y="418.90" width="1" height="1" fill="#bbdefb"/>
</g>
</g>
<g id="bolt">
<circle cx="634.8" cy="396.4" r="9.6" fill="#fff" stroke="#9C27B0" stroke-width="1.4"/>
<circle cx="641.6" cy="389.7" r="3.9" fill="#fff"/>
<circle cx="641.6" cy="389.7" r="2.4" fill="#F23645"/>
<path d="M638.8 391.6 L630.6 397.2 L634.8 397.2 L631.9 401.8 L639.2 395.8 L635.2 395.8 Z" fill="#9C27B0"/>
</g>

<g id="logo" fill="#151515">
<path d="M1 481.3 H12 V495.6 H6.3 V486.4 H1 Z"/>
<circle cx="16.9" cy="484.1" r="2.8"/>
<path d="M22.8 481.3 H29.5 L23.6 495.6 H16.9 Z"/>
</g>
</svg>

<div class="t ttl" style="left:0;top:7.7px;width:200px;height:14px;">
<span style="left:5.99px;transform:scaleX(0.820);">CFDs</span>
<span style="left:34.20px;transform:scaleX(1.008);">on</span>
<span style="left:50.65px;transform:scaleX(0.904);">Gold</span>
<span style="left:78.77px;transform:scaleX(0.834);">(US$</span>
<span style="left:106.70px;transform:scaleX(1.077);">/</span>
<span style="left:114.56px;transform:scaleX(0.887);">OZ)</span>
<span style="left:135.50px;transform:scaleX(1.400);">·</span>
<span style="left:144.43px;transform:scaleX(0.873);">1D</span>
<span style="left:161.10px;transform:scaleX(1.400);">·</span>
<span style="left:170.00px;transform:scaleX(0.817);">TVC</span>
</div>
<div class="t pl" style="top:19.4px;">3,650.000</div>
<div class="t pl" style="top:51.8px;">3,600.000</div>
<div class="t pl" style="top:84.2px;">3,550.000</div>
<div class="t pl" style="top:116.7px;">3,500.000</div>
<div class="t pl" style="top:149.1px;">3,450.000</div>
<div class="t pl" style="top:181.5px;">3,400.000</div>
<div class="t pl" style="top:213.9px;">3,350.000</div>
<div class="t pl" style="top:246.3px;">3,300.000</div>
<div class="t pl" style="top:278.8px;">3,250.000</div>
<div class="t pl" style="top:311.2px;">3,200.000</div>
<div class="t pl" style="top:343.6px;">3,150.000</div>
<div class="t pl" style="top:376.0px;">3,100.000</div>
<div class="t pl" style="top:408.4px;">3,050.000</div>
<div class="t pl" style="top:130.7px;color:#fff;-webkit-text-stroke:0.35px #fff;">3,480.230</div>
<div class="t tl" style="left:48.55px;transform:scaleX(1.011);">Apr</div>
<div class="t tl" style="left:162.27px;transform:scaleX(0.976);">May</div>
<div class="t tl" style="left:278.65px;transform:scaleX(1.018);">Jun</div>
<div class="t tl" style="left:389.63px;transform:scaleX(1.089);">Jul</div>
<div class="t tl" style="left:509.17px;transform:scaleX(0.933);">Aug</div>
<div class="t tl" style="left:624.21px;transform:scaleX(0.977);">Sep</div>
<div class="t" style="left:35.9px;top:479.4px;font-size:19.5px;font-weight:bold;letter-spacing:0.2px;color:#151515;">TradingView</div>
</body></html>
